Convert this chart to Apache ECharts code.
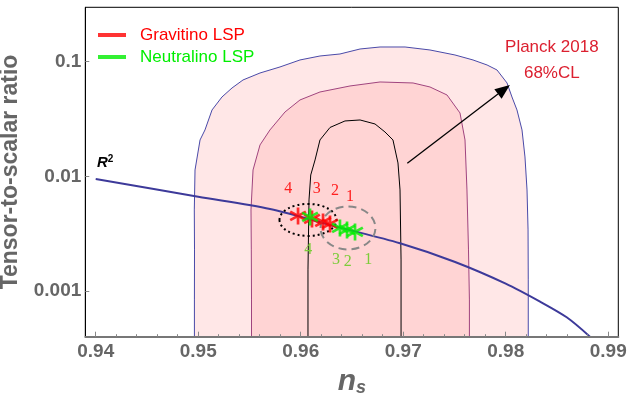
<!DOCTYPE html>
<html><head><meta charset="utf-8">
<script src="https://cdn.jsdelivr.net/npm/echarts@6/dist/echarts.min.js"></script>
<style>html,body{margin:0;padding:0;background:#fff}#c{width:628px;height:393px}</style>
</head><body><div id="c"></div>
<script>
// ---- axis ranges / ticks ----
const xTicks = [0.94, 0.95, 0.96, 0.97, 0.98, 0.99];
const xMinorTicks = [0.942,0.944,0.946,0.948,0.952,0.954,0.956,0.958,0.962,0.964,0.966,0.968,0.972,0.974,0.976,0.978,0.982,0.984,0.986,0.988];
const yTicks = [0.001, 0.01, 0.1];
const yTickLabels = ['0.001', '0.01', '0.1'];
const NS_RANGE = [0.938985, 0.990985];
const R_RANGE = [0.0003996, 0.2980];

// ---- Planck 2018 contours [ns, r] ----
const outerContour = [[0.94963,0.0003996],[0.94963,0.000836],[0.94964,0.002283],[0.94962,0.005095],[0.94969,0.01137],[0.95018,0.02077],[0.95066,0.02539],[0.95135,0.03793],[0.95232,0.04923],[0.95330,0.05898],[0.95437,0.06926],[0.95603,0.07969],[0.95798,0.08993],[0.95993,0.1035],[0.96188,0.1121],[0.96383,0.1167],[0.96579,0.1290],[0.96774,0.1343],[0.97018,0.1343],[0.97261,0.1265],[0.97505,0.1144],[0.97681,0.1035],[0.97818,0.09359],[0.97915,0.08465],[0.98013,0.06520],[0.98061,0.04923],[0.98110,0.03793],[0.98159,0.02539],[0.98188,0.01476],[0.98208,0.007610],[0.98218,0.003410],[0.98220,0.001250],[0.98220,0.0003996]];
const middleContour = [[0.95520,0.0003996],[0.95520,0.000836],[0.95518,0.002283],[0.95515,0.005095],[0.95535,0.01137],[0.95603,0.01878],[0.95700,0.02539],[0.95847,0.03643],[0.95993,0.04636],[0.96188,0.05441],[0.96481,0.06139],[0.96774,0.06652],[0.97096,0.06520],[0.97261,0.06017],[0.97427,0.05126],[0.97554,0.03570],[0.97603,0.02077],[0.97622,0.007610],[0.97637,0.002283],[0.97646,0.000836],[0.97646,0.0003996]];
const innerContour = [[0.96071,0.0003996],[0.96071,0.001528],[0.96081,0.006225],[0.96098,0.01028],[0.96140,0.01390],[0.96188,0.02077],[0.96286,0.02669],[0.96432,0.03041],[0.96579,0.03102],[0.96725,0.02862],[0.96822,0.02438],[0.96900,0.02077],[0.96949,0.01309],[0.96969,0.007610],[0.96979,0.001866],[0.96979,0.0003996]];

// ---- R^2 model line [ns, r] ----
const r2Line = [[0.9400,0.00948],[0.9500,0.00665],[0.95701,0.00520],[0.9635,0.003636],[0.96969,0.00261],[0.9750,0.00180],[0.9800,0.00116],[0.98335,0.000808],[0.98595,0.000590],[0.98822,0.000400]];

// ---- model points [ns, r] ----
const gravitino = [[0.95974,0.004516],[0.96110,0.004252],[0.96218,0.004003],[0.96286,0.003846]];
const neutralino = [[0.96091,0.004426],[0.96383,0.003549],[0.96452,0.003410],[0.96530,0.003276]];
const gravitinoLabels = [['4',0.95879,0.00772],['3',0.96156,0.00772],['2',0.96335,0.00750],['1',0.96481,0.00665]];
const neutralinoLabels = [['4',0.96074,0.002282],['3',0.96344,0.001866],['2',0.96459,0.001804],['1',0.96660,0.001866]];

// ---- ellipses: [center ns, center r, half-width in ns, half-height in decades] ----
const dottedEllipse = [0.96071, 0.004169, 0.00278, 0.1395];
const dashedEllipse = [0.96461, 0.003549, 0.00268, 0.1874];

// ---- annotations ----
const arrowPts = [[0.97040,0.01303],[0.98041,0.06265]];
const planckText = [['Planck 2018',0.98450,0.1343],['68%CL',0.98450,0.0797]];
const r2TextPos = [0.94092, 0.01303];

const lg = v => Math.log10(v);
const STAR = 'path://M-1.5,-10L1.5,-10L1.5,10L-1.5,10Z M7.91,-6.30L9.41,-3.70L-7.91,6.30L-9.41,3.70Z M9.41,3.70L7.91,6.30L-9.41,-3.70L-7.91,-6.30Z';

function polygonSeries(pts, fill, stroke, z) {
  return {
    type: 'custom', coordinateSystem: 'cartesian2d', silent: true, clip: true, z: z,
    data: [[pts[0][0], lg(pts[0][1])]],
    renderItem: (params, api) => ({
      type: pts === innerContour ? 'polyline' : 'polygon',
      shape: { points: pts.map(p => api.coord([p[0], lg(p[1])])) },
      style: { fill: fill, stroke: stroke, lineWidth: 1 }
    })
  };
}
function ellipseSeries(e, stroke, dash, z) {
  return {
    type: 'custom', coordinateSystem: 'cartesian2d', silent: true, z: z,
    data: [[e[0], lg(e[1])]],
    renderItem: (params, api) => {
      const c = api.coord([e[0], lg(e[1])]);
      const s = api.size([e[2], e[3]]);
      return { type: 'ellipse', shape: { cx: c[0], cy: c[1], rx: s[0], ry: s[1] },
        style: { fill: null, stroke: stroke, lineWidth: 2, lineDash: dash } };
    }
  };
}
function textSeries(items, color, font, z) {
  return {
    type: 'custom', coordinateSystem: 'cartesian2d', silent: true, z: z,
    data: items.map(t => [t[1], lg(t[2])]),
    renderItem: (params, api) => {
      const t = items[params.dataIndex];
      const c = api.coord([t[1], lg(t[2])]);
      return { type: 'text', x: c[0], y: c[1],
        style: { text: t[0], fill: color, font: font, align: 'center', verticalAlign: 'middle' } };
    }
  };
}

const chart = echarts.init(document.getElementById('c'));
chart.setOption({
  animation: false,
  grid: { left: 85.3, right: 9.7, top: 7.3, bottom: 56.3, outerBoundsMode: 'none', containLabel: false,
    show: true, borderColor: '#000', borderWidth: 1, backgroundColor: 'transparent' },
  legend: {
    orient: 'vertical', left: 93, top: 20, itemWidth: 28, itemHeight: 4, itemGap: 2, icon: 'rect',
    selectedMode: false,
    textStyle: { fontSize: 17, fontFamily: 'Liberation Sans', lineHeight: 20, padding: [0, 0, 0, 9] },
    data: [
      { name: 'Gravitino LSP', textStyle: { color: '#ff0000' } },
      { name: 'Neutralino LSP', textStyle: { color: '#00ee00' } }
    ]
  },
  xAxis: [{
    type: 'value', min: NS_RANGE[0], max: NS_RANGE[1], z: 10,
    name: '{n|n}{s|s}', nameLocation: 'middle', nameGap: 30,
    nameTextStyle: { rich: {
      n: { fontSize: 30, fontWeight: 'bold', fontStyle: 'italic', color: '#666', fontFamily: 'Liberation Sans' },
      s: { fontSize: 18, fontWeight: 'bold', fontStyle: 'italic', color: '#666', fontFamily: 'Liberation Sans', padding: [12, 0, 0, 0] }
    } },
    axisLine: { show: true, onZero: false, lineStyle: { color: '#777', width: 2 } },
    axisTick: { show: true, inside: true, length: 5, customValues: xTicks, lineStyle: { color: '#888', width: 1 } },
    axisLabel: { customValues: xTicks, formatter: v => v.toFixed(2), fontSize: 19, fontWeight: 'bold', color: '#666', fontFamily: 'Liberation Sans', margin: 6 },
    splitLine: { show: false }
  }, {
    type: 'value', min: NS_RANGE[0], max: NS_RANGE[1], position: 'bottom', z: 10,
    axisLine: { show: false },
    axisTick: { show: true, inside: true, length: 2.5, customValues: xMinorTicks, lineStyle: { color: '#888', width: 1 } },
    axisLabel: { show: false }, splitLine: { show: false }
  }],
  yAxis: {
    type: 'value', min: lg(R_RANGE[0]), max: lg(R_RANGE[1]), z: 10,
    name: 'Tensor-to-scalar ratio', nameLocation: 'middle', nameRotate: 90, nameGap: 63,
    nameTextStyle: { fontSize: 23, fontWeight: 'bold', color: '#666', fontFamily: 'Liberation Sans' },
    axisLine: { show: true, onZero: false, lineStyle: { color: '#000', width: 1 } },
    axisTick: { show: true, inside: true, length: 4, customValues: yTicks.map(lg), lineStyle: { color: '#888' } },
    axisLabel: { customValues: yTicks.map(lg),
      formatter: v => { let b = 0; yTicks.forEach((t, i) => { if (Math.abs(lg(t) - v) < 1e-6) b = i; }); return yTickLabels[b]; },
      fontSize: 19, fontWeight: 'bold', color: '#666', fontFamily: 'Liberation Sans', margin: 4 },
    splitLine: { show: false }
  },
  series: [
    polygonSeries(outerContour, '#ffe7e7', '#4a4aa8', 1),
    polygonSeries(middleContour, '#ffd4d4', '#a0447e', 2),
    polygonSeries(innerContour, null, '#000', 3),
    {
      type: 'line', silent: true, z: 4, showSymbol: false, symbol: 'none', smooth: 0.3,
      data: r2Line.map(p => [p[0], lg(p[1])]),
      lineStyle: { color: '#3d3a9a', width: 2 }
    },
    ellipseSeries(dottedEllipse, '#000', [2, 3], 5),
    ellipseSeries(dashedEllipse, '#888', [8, 5], 5),
    {
      name: 'Gravitino LSP', type: 'scatter', z: 6, symbol: STAR, symbolSize: 17,
      itemStyle: { color: '#ff0000' }, data: gravitino.map(p => [p[0], lg(p[1])])
    },
    {
      name: 'Neutralino LSP', type: 'scatter', z: 7, symbol: STAR, symbolSize: 17,
      itemStyle: { color: '#00ee00' }, data: neutralino.map(p => [p[0], lg(p[1])])
    },
    textSeries(gravitinoLabels, '#ff2020', '16px "Liberation Serif"', 8),
    textSeries(neutralinoLabels, '#7ccc3a', '16px "Liberation Serif"', 8),
    textSeries(planckText, '#dc2030', '17px "Liberation Sans"', 8),
    {
      type: 'custom', coordinateSystem: 'cartesian2d', silent: true, z: 8,
      data: [[r2TextPos[0], lg(r2TextPos[1])]],
      renderItem: (params, api) => {
        const c = api.coord([r2TextPos[0], lg(r2TextPos[1])]);
        return { type: 'text', x: c[0], y: c[1], style: {
          text: '{r|R}{p|2}', align: 'center', verticalAlign: 'middle',
          rich: { r: { font: 'italic bold 15px "Liberation Sans"', fill: '#000' },
                  p: { font: 'bold 10px "Liberation Sans"', fill: '#000', padding: [0, 0, 8, 0] } } } };
      }
    },
    {
      type: 'custom', coordinateSystem: 'cartesian2d', silent: true, z: 8,
      data: arrowPts.map(p => [p[0], lg(p[1])]),
      renderItem: (params, api) => {
        if (params.dataIndex !== 0) return null;
        const a = api.coord([arrowPts[0][0], lg(arrowPts[0][1])]);
        const b = api.coord([arrowPts[1][0], lg(arrowPts[1][1])]);
        const ang = Math.atan2(b[1] - a[1], b[0] - a[0]);
        const hl = 15, hw = 6;
        const bx = b[0] - hl * Math.cos(ang), by = b[1] - hl * Math.sin(ang);
        const px = -Math.sin(ang) * hw, py = Math.cos(ang) * hw;
        return { type: 'group', children: [
          { type: 'line', shape: { x1: a[0], y1: a[1], x2: bx, y2: by }, style: { stroke: '#000', lineWidth: 1.3 } },
          { type: 'polygon', shape: { points: [[b[0], b[1]], [bx + px, by + py], [bx - px, by - py]] }, style: { fill: '#000' } }
        ] };
      }
    }
  ]
});
</script>
</body></html>
